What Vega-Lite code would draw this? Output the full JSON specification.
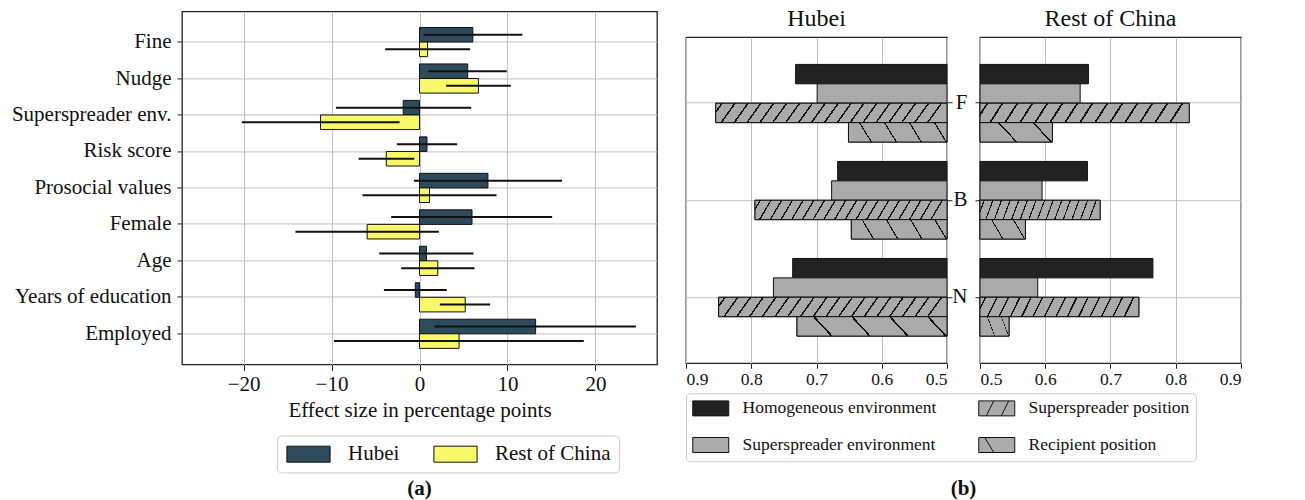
{
  "$schema": "https://vega.github.io/schema/vega-lite/v6.json",
  "padding": {"left": 10, "top": 6, "right": 0, "bottom": 0},
  "config": {
    "font": "Liberation Serif",
    "view": {"stroke": "#222222", "strokeWidth": 1.3},
    "axis": {"domain": false, "labelFont": "Liberation Serif", "titleFont": "Liberation Serif", "labelColor": "#111111", "titleColor": "#111111", "tickColor": "#222222", "gridColor": "#c0c0c0", "gridWidth": 1, "titleFontWeight": "normal", "labelFontSize": 21, "titleFontSize": 21},
    "legend": {"labelFont": "Liberation Serif", "labelColor": "#111111"},
    "title": {"font": "Liberation Serif", "color": "#111111", "subtitleFont": "Liberation Serif"}
  },
  "datasets": {
    "a": [
      {"cat": "Fine", "region": "Hubei", "mean": 6.06, "lo": 0.45, "hi": 11.7},
      {"cat": "Fine", "region": "Rest of China", "mean": 0.92, "lo": -3.9, "hi": 5.76},
      {"cat": "Nudge", "region": "Hubei", "mean": 5.48, "lo": 1.02, "hi": 9.92},
      {"cat": "Nudge", "region": "Rest of China", "mean": 6.7, "lo": 3.03, "hi": 10.38},
      {"cat": "Superspreader env.", "region": "Hubei", "mean": -1.85, "lo": -9.5, "hi": 5.87},
      {"cat": "Superspreader env.", "region": "Rest of China", "mean": -11.25, "lo": -20.2, "hi": -2.27},
      {"cat": "Risk score", "region": "Hubei", "mean": 0.85, "lo": -2.58, "hi": 4.28},
      {"cat": "Risk score", "region": "Rest of China", "mean": -3.78, "lo": -6.93, "hi": -0.6},
      {"cat": "Prosocial values", "region": "Hubei", "mean": 7.78, "lo": -0.64, "hi": 16.2},
      {"cat": "Prosocial values", "region": "Rest of China", "mean": 1.14, "lo": -6.48, "hi": 8.75},
      {"cat": "Female", "region": "Hubei", "mean": 5.97, "lo": -3.22, "hi": 15.08},
      {"cat": "Female", "region": "Rest of China", "mean": -5.95, "lo": -14.1, "hi": 2.2},
      {"cat": "Age", "region": "Hubei", "mean": 0.8, "lo": -4.58, "hi": 6.14},
      {"cat": "Age", "region": "Rest of China", "mean": 2.08, "lo": -2.08, "hi": 6.25},
      {"cat": "Years of education", "region": "Hubei", "mean": -0.48, "lo": -4.05, "hi": 3.1},
      {"cat": "Years of education", "region": "Rest of China", "mean": 5.2, "lo": 2.31, "hi": 8.03},
      {"cat": "Employed", "region": "Hubei", "mean": 13.2, "lo": 1.7, "hi": 24.6},
      {"cat": "Employed", "region": "Rest of China", "mean": 4.5, "lo": -9.73, "hi": 18.67}
    ],
    "b": [
      {"region": "Hubei", "cond": "F", "series": "Homogeneous environment", "value": 0.732},
      {"region": "Hubei", "cond": "F", "series": "Superspreader environment", "value": 0.699},
      {"region": "Hubei", "cond": "F", "series": "Superspreader position", "value": 0.8545},
      {"region": "Hubei", "cond": "F", "series": "Recipient position", "value": 0.651},
      {"region": "Hubei", "cond": "B", "series": "Homogeneous environment", "value": 0.6676},
      {"region": "Hubei", "cond": "B", "series": "Superspreader environment", "value": 0.6768},
      {"region": "Hubei", "cond": "B", "series": "Superspreader position", "value": 0.7943},
      {"region": "Hubei", "cond": "B", "series": "Recipient position", "value": 0.6466},
      {"region": "Hubei", "cond": "N", "series": "Homogeneous environment", "value": 0.7365},
      {"region": "Hubei", "cond": "N", "series": "Superspreader environment", "value": 0.766},
      {"region": "Hubei", "cond": "N", "series": "Superspreader position", "value": 0.85},
      {"region": "Hubei", "cond": "N", "series": "Recipient position", "value": 0.7299},
      {"region": "Rest of China", "cond": "F", "series": "Homogeneous environment", "value": 0.6662},
      {"region": "Rest of China", "cond": "F", "series": "Superspreader environment", "value": 0.6535},
      {"region": "Rest of China", "cond": "F", "series": "Superspreader position", "value": 0.8207},
      {"region": "Rest of China", "cond": "F", "series": "Recipient position", "value": 0.611},
      {"region": "Rest of China", "cond": "B", "series": "Homogeneous environment", "value": 0.6647},
      {"region": "Rest of China", "cond": "B", "series": "Superspreader environment", "value": 0.5951},
      {"region": "Rest of China", "cond": "B", "series": "Superspreader position", "value": 0.6841},
      {"region": "Rest of China", "cond": "B", "series": "Recipient position", "value": 0.5696},
      {"region": "Rest of China", "cond": "N", "series": "Homogeneous environment", "value": 0.765},
      {"region": "Rest of China", "cond": "N", "series": "Superspreader environment", "value": 0.5885},
      {"region": "Rest of China", "cond": "N", "series": "Superspreader position", "value": 0.7435},
      {"region": "Rest of China", "cond": "N", "series": "Recipient position", "value": 0.5445}
    ]
  },
  "spacing": 26,
  "center": true,
  "resolve": {"scale": {"x": "independent", "y": "independent", "color": "independent", "yOffset": "independent"}, "legend": {"color": "independent"}},
  "hconcat": [
    {
      "width": 475,
      "height": 353,
      "data": {"name": "a"},
      "title": {"text": "(a)", "subtitle": " ", "subtitleFontSize": 21, "subtitlePadding": 4, "orient": "bottom", "anchor": "middle", "fontSize": 21, "fontWeight": "bold", "offset": 5},
      "encoding": {
        "y": {"field": "cat", "type": "nominal", "sort": ["Fine", "Nudge", "Superspreader env.", "Risk score", "Prosocial values", "Female", "Age", "Years of education", "Employed"], "scale": {"paddingInner": 0, "paddingOuter": 0.34}, "axis": {"title": null, "tickSize": 5, "labelPadding": 6, "bandPosition": 0.5, "grid": true, "labelLimit": 300}},
        "yOffset": {"field": "region", "type": "nominal", "scale": {"domain": ["Hubei", "Rest of China"], "paddingInner": 0, "paddingOuter": 0.25}}
      },
      "layer": [
        {
          "mark": {"type": "bar", "stroke": "#111111", "strokeWidth": 1},
          "encoding": {
            "x": {"field": "mean", "type": "quantitative", "scale": {"domain": [-27, 27], "nice": false, "zero": false}, "axis": {"title": "Effect size in percentage points", "values": [-20, -10, 0, 10, 20], "labelExpr": "replace(datum.label, '-', '−')", "tickSize": 6, "labelPadding": 3, "titlePadding": 5, "grid": true}},
            "x2": {"datum": 0},
            "color": {"field": "region", "type": "nominal", "scale": {"domain": ["Hubei", "Rest of China"], "range": ["#2d4b5b", "#f8f86b"]}, "legend": {"title": null, "orient": "none", "legendX": 95, "legendY": 424, "direction": "horizontal", "symbolType": "M-2.7,-1H2.7V1H-2.7Z", "symbolSize": 256, "symbolOffset": 13, "symbolStrokeColor": "#111111", "symbolStrokeWidth": 1, "labelFontSize": 21, "labelOffset": 29, "columnPadding": 31, "padding": 8, "strokeColor": "#cccccc", "cornerRadius": 4, "fillColor": "white", "labelLimit": 300}}
          }
        },
        {
          "mark": {"type": "rule", "color": "#111111", "strokeWidth": 2},
          "encoding": {
            "x": {"field": "lo", "type": "quantitative"},
            "x2": {"field": "hi"}
          }
        }
      ]
    },
    {
      "data": {"name": "b"},
      "title": {"text": "(b)", "orient": "bottom", "anchor": "middle", "fontSize": 21, "fontWeight": "bold", "offset": 16},
      "spacing": 33,
      "bounds": "flush",
      "resolve": {"scale": {"x": "independent", "y": "independent", "yOffset": "independent", "color": "shared"}, "axis": {"x": "independent", "y": "independent"}, "legend": {"color": "shared"}},
      "hconcat": [
        {
          "width": 261,
          "height": 326,
          "title": {"text": "Hubei", "fontSize": 24, "fontWeight": "normal", "offset": 6},
          "transform": [{"filter": "datum.region === 'Hubei'"}],
          "encoding": {
            "y": {"field": "cond", "type": "nominal", "sort": ["F", "B", "N"], "scale": {"paddingInner": 0, "paddingOuter": 0.18}, "axis": {"title": null, "orient": "right", "labels": false, "ticks": true, "tickSize": 5, "bandPosition": 0.5, "grid": true}},
            "yOffset": {"field": "series", "type": "nominal", "scale": {"domain": ["Homogeneous environment", "Superspreader environment", "Superspreader position", "Recipient position"], "paddingInner": 0, "paddingOuter": 0.5}},
            "x": {"field": "value", "type": "quantitative", "scale": {"domain": [0.5, 0.9], "reverse": true, "nice": false, "zero": false}, "axis": {"title": null, "values": [0.5, 0.6, 0.7, 0.8, 0.9], "format": ".1f", "labelFontSize": 17.5, "tickSize": 5, "grid": true}},
            "x2": {"datum": 0.5}
          },
          "layer": [
            {
              "mark": {"type": "bar", "stroke": "#111111", "strokeWidth": 1},
              "encoding": {
                "color": {"field": "series", "type": "nominal", "scale": {"domain": ["Homogeneous environment", "Superspreader position", "Superspreader environment", "Recipient position"], "range": ["#222222", "#aaaaaa", "#aaaaaa", "#aaaaaa"]}, "legend": {"title": null, "orient": "bottom", "offset": 4, "direction": "horizontal", "columns": 2, "columnPadding": 39, "rowPadding": 17, "padding": 6, "labelFontSize": 17.5, "labelOffset": 23, "symbolOffset": 10, "symbolSize": 225, "symbolType": "M-2.4,-1H2.4V1H-2.4Z", "symbolStrokeColor": "#111111", "symbolStrokeWidth": 1, "strokeColor": "#cccccc", "cornerRadius": 4, "fillColor": "white", "labelLimit": 400, "encode": {"symbols": {"update": {"shape": {"signal": "datum.value === 'Superspreader position' ? 'M-2.4,-1H2.4V1H-2.4ZM-1.4,1L-0.4,-1M0.6,1L1.6,-1' : datum.value === 'Recipient position' ? 'M-2.4,-1H2.4V1H-2.4ZM-1.6,-1L-0.4,1' : 'M-2.4,-1H2.4V1H-2.4Z'"}}}}}}
              }
            },
            {
              "transform": [{"filter": "datum.series === 'Superspreader position'"}],
              "mark": {"type": "bar", "stroke": "#111111", "strokeWidth": 1, "fill": {"gradient": "linear", "x1": 0, "y1": 0, "x2": 1, "y2": 0.06, "stops": [
                {"offset": 0, "color": "#aaaaaa"},
                {"offset": 0.0238, "color": "#aaaaaa"}, {"offset": 0.0238, "color": "#111111"}, {"offset": 0.0318, "color": "#111111"}, {"offset": 0.0318, "color": "#aaaaaa"},
                {"offset": 0.0793, "color": "#aaaaaa"}, {"offset": 0.0793, "color": "#111111"}, {"offset": 0.0873, "color": "#111111"}, {"offset": 0.0873, "color": "#aaaaaa"},
                {"offset": 0.1349, "color": "#aaaaaa"}, {"offset": 0.1349, "color": "#111111"}, {"offset": 0.1429, "color": "#111111"}, {"offset": 0.1429, "color": "#aaaaaa"},
                {"offset": 0.1904, "color": "#aaaaaa"}, {"offset": 0.1904, "color": "#111111"}, {"offset": 0.1984, "color": "#111111"}, {"offset": 0.1984, "color": "#aaaaaa"},
                {"offset": 0.246, "color": "#aaaaaa"}, {"offset": 0.246, "color": "#111111"}, {"offset": 0.254, "color": "#111111"}, {"offset": 0.254, "color": "#aaaaaa"},
                {"offset": 0.3016, "color": "#aaaaaa"}, {"offset": 0.3016, "color": "#111111"}, {"offset": 0.3096, "color": "#111111"}, {"offset": 0.3096, "color": "#aaaaaa"},
                {"offset": 0.3571, "color": "#aaaaaa"}, {"offset": 0.3571, "color": "#111111"}, {"offset": 0.3651, "color": "#111111"}, {"offset": 0.3651, "color": "#aaaaaa"},
                {"offset": 0.4127, "color": "#aaaaaa"}, {"offset": 0.4127, "color": "#111111"}, {"offset": 0.4207, "color": "#111111"}, {"offset": 0.4207, "color": "#aaaaaa"},
                {"offset": 0.4682, "color": "#aaaaaa"}, {"offset": 0.4682, "color": "#111111"}, {"offset": 0.4762, "color": "#111111"}, {"offset": 0.4762, "color": "#aaaaaa"},
                {"offset": 0.5238, "color": "#aaaaaa"}, {"offset": 0.5238, "color": "#111111"}, {"offset": 0.5318, "color": "#111111"}, {"offset": 0.5318, "color": "#aaaaaa"},
                {"offset": 0.5793, "color": "#aaaaaa"}, {"offset": 0.5793, "color": "#111111"}, {"offset": 0.5873, "color": "#111111"}, {"offset": 0.5873, "color": "#aaaaaa"},
                {"offset": 0.6349, "color": "#aaaaaa"}, {"offset": 0.6349, "color": "#111111"}, {"offset": 0.6429, "color": "#111111"}, {"offset": 0.6429, "color": "#aaaaaa"},
                {"offset": 0.6904, "color": "#aaaaaa"}, {"offset": 0.6904, "color": "#111111"}, {"offset": 0.6984, "color": "#111111"}, {"offset": 0.6984, "color": "#aaaaaa"},
                {"offset": 0.746, "color": "#aaaaaa"}, {"offset": 0.746, "color": "#111111"}, {"offset": 0.754, "color": "#111111"}, {"offset": 0.754, "color": "#aaaaaa"},
                {"offset": 0.8016, "color": "#aaaaaa"}, {"offset": 0.8016, "color": "#111111"}, {"offset": 0.8096, "color": "#111111"}, {"offset": 0.8096, "color": "#aaaaaa"},
                {"offset": 0.8571, "color": "#aaaaaa"}, {"offset": 0.8571, "color": "#111111"}, {"offset": 0.8651, "color": "#111111"}, {"offset": 0.8651, "color": "#aaaaaa"},
                {"offset": 0.9127, "color": "#aaaaaa"}, {"offset": 0.9127, "color": "#111111"}, {"offset": 0.9207, "color": "#111111"}, {"offset": 0.9207, "color": "#aaaaaa"},
                {"offset": 0.9682, "color": "#aaaaaa"}, {"offset": 0.9682, "color": "#111111"}, {"offset": 0.9762, "color": "#111111"}, {"offset": 0.9762, "color": "#aaaaaa"},
                {"offset": 1, "color": "#aaaaaa"}
              ]}}
            },
            {
              "transform": [{"filter": "datum.series === 'Recipient position'"}],
              "mark": {"type": "bar", "stroke": "#111111", "strokeWidth": 1, "fill": {"gradient": "linear", "x1": 0, "y1": 0.12, "x2": 1, "y2": 0, "stops": [
                {"offset": 0, "color": "#aaaaaa"},
                {"offset": 0.118, "color": "#aaaaaa"}, {"offset": 0.118, "color": "#111111"}, {"offset": 0.132, "color": "#111111"}, {"offset": 0.132, "color": "#aaaaaa"},
                {"offset": 0.368, "color": "#aaaaaa"}, {"offset": 0.368, "color": "#111111"}, {"offset": 0.382, "color": "#111111"}, {"offset": 0.382, "color": "#aaaaaa"},
                {"offset": 0.618, "color": "#aaaaaa"}, {"offset": 0.618, "color": "#111111"}, {"offset": 0.632, "color": "#111111"}, {"offset": 0.632, "color": "#aaaaaa"},
                {"offset": 0.868, "color": "#aaaaaa"}, {"offset": 0.868, "color": "#111111"}, {"offset": 0.882, "color": "#111111"}, {"offset": 0.882, "color": "#aaaaaa"},
                {"offset": 1, "color": "#aaaaaa"}
              ]}}
            }
          ]
        },
        {
          "width": 261,
          "height": 326,
          "title": {"text": "Rest of China", "fontSize": 24, "fontWeight": "normal", "offset": 6},
          "transform": [{"filter": "datum.region === 'Rest of China'"}],
          "encoding": {
            "y": {"field": "cond", "type": "nominal", "sort": ["F", "B", "N"], "scale": {"paddingInner": 0, "paddingOuter": 0.18}, "axis": {"title": null, "orient": "left", "tickSize": 5, "labelPadding": 8, "bandPosition": 0.5, "grid": true}},
            "yOffset": {"field": "series", "type": "nominal", "scale": {"domain": ["Homogeneous environment", "Superspreader environment", "Superspreader position", "Recipient position"], "paddingInner": 0, "paddingOuter": 0.5}},
            "x": {"field": "value", "type": "quantitative", "scale": {"domain": [0.5, 0.9], "nice": false, "zero": false}, "axis": {"title": null, "values": [0.5, 0.6, 0.7, 0.8, 0.9], "format": ".1f", "labelFontSize": 17.5, "tickSize": 5, "grid": true}},
            "x2": {"datum": 0.5}
          },
          "layer": [
            {
              "mark": {"type": "bar", "stroke": "#111111", "strokeWidth": 1},
              "encoding": {
                "color": {"field": "series", "type": "nominal"}
              }
            },
            {
              "transform": [{"filter": "datum.series === 'Superspreader position'"}],
              "mark": {"type": "bar", "stroke": "#111111", "strokeWidth": 1, "fill": {"gradient": "linear", "x1": 0, "y1": 0, "x2": 1, "y2": 0.06, "stops": [
                {"offset": 0, "color": "#aaaaaa"},
                {"offset": 0.0307, "color": "#aaaaaa"}, {"offset": 0.0307, "color": "#111111"}, {"offset": 0.0407, "color": "#111111"}, {"offset": 0.0407, "color": "#aaaaaa"},
                {"offset": 0.1021, "color": "#aaaaaa"}, {"offset": 0.1021, "color": "#111111"}, {"offset": 0.1121, "color": "#111111"}, {"offset": 0.1121, "color": "#aaaaaa"},
                {"offset": 0.1736, "color": "#aaaaaa"}, {"offset": 0.1736, "color": "#111111"}, {"offset": 0.1836, "color": "#111111"}, {"offset": 0.1836, "color": "#aaaaaa"},
                {"offset": 0.245, "color": "#aaaaaa"}, {"offset": 0.245, "color": "#111111"}, {"offset": 0.255, "color": "#111111"}, {"offset": 0.255, "color": "#aaaaaa"},
                {"offset": 0.3164, "color": "#aaaaaa"}, {"offset": 0.3164, "color": "#111111"}, {"offset": 0.3264, "color": "#111111"}, {"offset": 0.3264, "color": "#aaaaaa"},
                {"offset": 0.3879, "color": "#aaaaaa"}, {"offset": 0.3879, "color": "#111111"}, {"offset": 0.3979, "color": "#111111"}, {"offset": 0.3979, "color": "#aaaaaa"},
                {"offset": 0.4593, "color": "#aaaaaa"}, {"offset": 0.4593, "color": "#111111"}, {"offset": 0.4693, "color": "#111111"}, {"offset": 0.4693, "color": "#aaaaaa"},
                {"offset": 0.5307, "color": "#aaaaaa"}, {"offset": 0.5307, "color": "#111111"}, {"offset": 0.5407, "color": "#111111"}, {"offset": 0.5407, "color": "#aaaaaa"},
                {"offset": 0.6021, "color": "#aaaaaa"}, {"offset": 0.6021, "color": "#111111"}, {"offset": 0.6121, "color": "#111111"}, {"offset": 0.6121, "color": "#aaaaaa"},
                {"offset": 0.6736, "color": "#aaaaaa"}, {"offset": 0.6736, "color": "#111111"}, {"offset": 0.6836, "color": "#111111"}, {"offset": 0.6836, "color": "#aaaaaa"},
                {"offset": 0.745, "color": "#aaaaaa"}, {"offset": 0.745, "color": "#111111"}, {"offset": 0.755, "color": "#111111"}, {"offset": 0.755, "color": "#aaaaaa"},
                {"offset": 0.8164, "color": "#aaaaaa"}, {"offset": 0.8164, "color": "#111111"}, {"offset": 0.8264, "color": "#111111"}, {"offset": 0.8264, "color": "#aaaaaa"},
                {"offset": 0.8879, "color": "#aaaaaa"}, {"offset": 0.8879, "color": "#111111"}, {"offset": 0.8979, "color": "#111111"}, {"offset": 0.8979, "color": "#aaaaaa"},
                {"offset": 0.9593, "color": "#aaaaaa"}, {"offset": 0.9593, "color": "#111111"}, {"offset": 0.9693, "color": "#111111"}, {"offset": 0.9693, "color": "#aaaaaa"},
                {"offset": 1, "color": "#aaaaaa"}
              ]}}
            },
            {
              "transform": [{"filter": "datum.series === 'Recipient position'"}],
              "mark": {"type": "bar", "stroke": "#111111", "strokeWidth": 1, "fill": {"gradient": "linear", "x1": 0, "y1": 0.25, "x2": 1, "y2": 0, "stops": [
                {"offset": 0, "color": "#aaaaaa"},
                {"offset": 0.288, "color": "#aaaaaa"}, {"offset": 0.288, "color": "#111111"}, {"offset": 0.312, "color": "#111111"}, {"offset": 0.312, "color": "#aaaaaa"},
                {"offset": 0.738, "color": "#aaaaaa"}, {"offset": 0.738, "color": "#111111"}, {"offset": 0.762, "color": "#111111"}, {"offset": 0.762, "color": "#aaaaaa"},
                {"offset": 1, "color": "#aaaaaa"}
              ]}}
            }
          ]
        }
      ]
    }
  ]
}
